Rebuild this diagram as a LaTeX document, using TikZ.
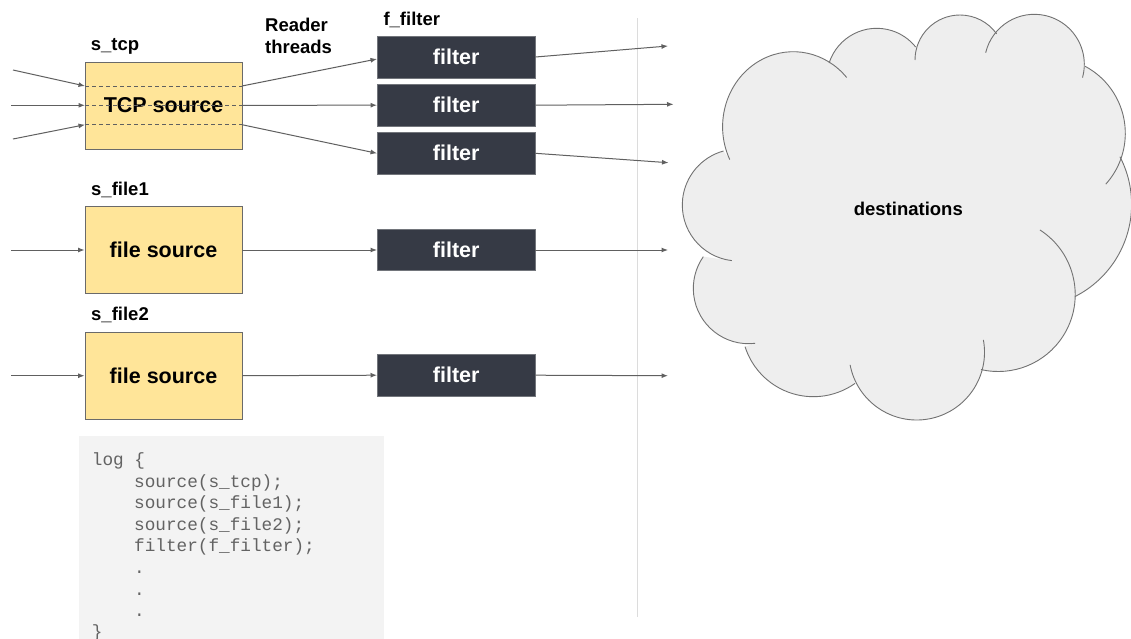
\documentclass[tikz,border=0pt]{standalone}
\usepackage{fontspec}
\setmainfont{Liberation Sans}
\newfontfamily\codefont{Liberation Mono}
\usetikzlibrary{arrows.meta,calc}

\definecolor{srcfill}{HTML}{FFE599}
\definecolor{srcline}{HTML}{6A6A6A}
\definecolor{filtfill}{HTML}{363A45}
\definecolor{filtline}{HTML}{72757B}
\definecolor{wirecol}{HTML}{606060}
\definecolor{codebg}{HTML}{F3F3F3}
\definecolor{codetext}{HTML}{636363}
\definecolor{cloudfill}{HTML}{EEEEEE}
\definecolor{cloudline}{HTML}{727272}
\definecolor{divider}{HTML}{DCDCDC}

\tikzset{
  srcbox/.style={draw=srcline, line width=0.9pt, fill=srcfill, inner sep=0pt,
    minimum width=157pt, minimum height=87pt,
    font=\fontsize{21.5}{24}\selectfont\bfseries},
  filtbox/.style={draw=filtline, line width=0.9pt, fill=filtfill, text=white,
    inner sep=0pt, minimum width=157.5pt, minimum height=41.5pt,
    font=\fontsize{21.5}{24}\selectfont\bfseries},
  lbl/.style={anchor=base west, inner sep=0pt,
    font=\fontsize{18.5}{22}\selectfont\bfseries},
  codeline/.style={anchor=base west, inner sep=0pt, text=codetext,
    font=\codefont\fontsize{17.7}{21.6}\selectfont},
  wire/.style={draw=wirecol, line width=1pt, -{Latex[length=6.5pt,width=5pt]}},
  lane/.style={draw=wirecol, line width=0.9pt, dash pattern=on 4pt off 3pt},
  puff/.style={draw=cloudline, line width=0.9pt},
  % outline of the destination cloud, one arc per puff
  cloudpath/.style={insert path={
    ($(cL)+(96.7:56)$) arc[start angle=96.7,end angle=254.7,radius=56]
    -- ($(cTL)+(154:70.7 and 75)$) arc[start angle=154,end angle=319,x radius=70.7,y radius=75]
    -- ($(cT2)+(197.8:50)$) arc[start angle=197.8,end angle=321.3,radius=50]
    -- ($(cT3)+(180:45)$) arc[start angle=180,end angle=324.5,radius=45]
    -- ($(cT4)+(193.4:50)$) arc[start angle=193.4,end angle=375.4,radius=50]
    -- ($(cRT)+(-61.9:76)$) arc[start angle=-61.9,end angle=42,radius=76]
    -- ($(cR)+(-27.5:103.3)$) arc[start angle=-27.5,end angle=63.1,radius=103.3]
    -- ($(cBR)+(-57.2:76.9)$) arc[start angle=-57.2,end angle=103,radius=76.9]
    -- ($(cB)+(-10.4:67.8)$) arc[start angle=-10.4,end angle=169.2,radius=67.8]
    -- ($(cBL)+(54.5:71.7)$) arc[start angle=54.5,end angle=162.4,radius=71.7]
    -- ($(cLL)+(83.3:55.3)$) arc[start angle=83.3,end angle=215,radius=55.3]
    -- cycle}}
}

\begin{document}
\begin{tikzpicture}[x=1pt,y=-1pt]
\useasboundingbox (0,0) rectangle (1131,638);
\clip (0,0) rectangle (1131,638);
\fill[white] (0,0) rectangle (1131,638);

% divider between pipeline and destinations
\draw[divider, line width=1pt] (637,18) -- (637,617);

% configuration snippet
\fill[codebg] (79,436) rectangle (384,645);
\node[codeline] (c1) at (91.7,465.5) {log \{};
\node[codeline] (c2) at (134,487.1) {source(s\_tcp);};
\node[codeline] (c3) at (134,508.7) {source(s\_file1);};
\node[codeline] (c4) at (134,530.3) {source(s\_file2);};
\node[codeline] (c5) at (134,551.9) {filter(f\_filter);};
\node[codeline] (c6) at (134,573.5) {.};
\node[codeline] (c7) at (134,595.1) {.};
\node[codeline] (c8) at (134,616.7) {.};
\node[codeline] (c9) at (91.7,637.5) {\}};

% sources
\node[srcbox] (tcp) at (163.5,105.5) {TCP source};
\node[srcbox, minimum height=86.6pt] (file1) at (163.5,250) {file source};
\node[srcbox] (file2) at (163.5,375.7) {file source};

\node[lbl] (ltcp) at (90.7,50.7) {s\_tcp};
\node[lbl] (lfile1) at (91,195.3) {s\_file1};
\node[lbl] (lfile2) at (91,320.5) {s\_file2};
\node[lbl] (lread) at (265,31.7) {Reader};
\node[lbl] (lthr) at (265,53.3) {threads};
\node[lbl] (lfilt) at (383.3,25) {f\_filter};

% filters
\node[filtbox, minimum height=42pt] (f1) at (456.2,57) {filter};
\node[filtbox] (f2) at (456.2,105.2) {filter};
\node[filtbox] (f3) at (456.2,153.3) {filter};
\node[filtbox] (f4) at (456.2,250) {filter};
\node[filtbox] (f5) at (456.2,375.2) {filter};

% reader thread lanes through the TCP source
\coordinate (tA) at (85,86);
\coordinate (tB) at (85,105.3);
\coordinate (tC) at (85,124.7);
\coordinate (uA) at (242,86);
\coordinate (uB) at (242,105.3);
\coordinate (uC) at (242,124.7);
\draw[lane] (tA) -- (uA);
\draw[lane] (tB) -- (uB);
\draw[lane] (tC) -- (uC);

% incoming connections
\coordinate (iA) at (13,70);
\coordinate (iB) at (11,105.3);
\coordinate (iC) at (13,139);
\coordinate (i1) at (11,250);
\coordinate (i2) at (11,375.7);
\draw[wire] (iA) -- (tA);
\draw[wire] (iB) -- (tB);
\draw[wire] (iC) -- (tC);
\draw[wire] (i1) -- (file1.west);
\draw[wire] (i2) -- (file2.west);

% sources to filters
\draw[wire] (uA) -- ($(f1.west)+(0,2)$);
\draw[wire] (uB) -- (f2.west);
\draw[wire] (uC) -- (f3.west);
\draw[wire] (file1.east) -- (f4.west);
\draw[wire] (file2.east) -- (f5.west);

% filters to destinations
\coordinate (o1) at (668,46);
\coordinate (o2) at (673.5,104.3);
\coordinate (o3) at (668.5,162.7);
\coordinate (o4) at (668,250);
\coordinate (o5) at (668,375.7);
\draw[wire] (f1.east) -- (o1);
\draw[wire] (f2.east) -- (o2);
\draw[wire] (f3.east) -- (o3);
\draw[wire] (f4.east) -- (o4);
\draw[wire] (f5.east) -- (o5);

% destination cloud
\coordinate (cL) at (738.3,205);
\coordinate (cTL) at (793.3,126.7);
\coordinate (cT2) at (876.7,78.3);
\coordinate (cT3) at (960,60);
\coordinate (cT4) at (1034.3,64.3);
\coordinate (cRT) at (1049.3,133.3);
\coordinate (cR) at (1028.3,204.4);
\coordinate (cBR) at (998.3,294.6);
\coordinate (cB) at (916.7,352.2);
\coordinate (cBL) at (813.4,325);
\coordinate (cLL) at (748.6,288.4);
\fill[cloudfill, cloudpath];
\draw[puff] ($(cL)+(96.7:56)$) arc[start angle=96.7,end angle=254.7,radius=56];
\draw[puff] ($(cTL)+(154:70.7 and 75)$) arc[start angle=154,end angle=319,x radius=70.7,y radius=75];
\foreach \c/\s/\e/\r in {cT2/197.8/321.3/50, cT3/180/324.5/45, cT4/193.4/375.4/50,
    cRT/-61.9/42/76, cR/-27.5/63.1/103.3, cBR/-57.2/103/76.9, cB/-10.4/169.2/67.8,
    cBL/54.5/162.4/71.7, cLL/83.3/215/55.3}
  \draw[puff] ($(\c)+(\s:\r)$) arc[start angle=\s,end angle=\e,radius=\r];
\node[font=\fontsize{18.5}{22}\selectfont\bfseries, anchor=base] (dest) at (908.3,215) {destinations};
\end{tikzpicture}
\end{document}
